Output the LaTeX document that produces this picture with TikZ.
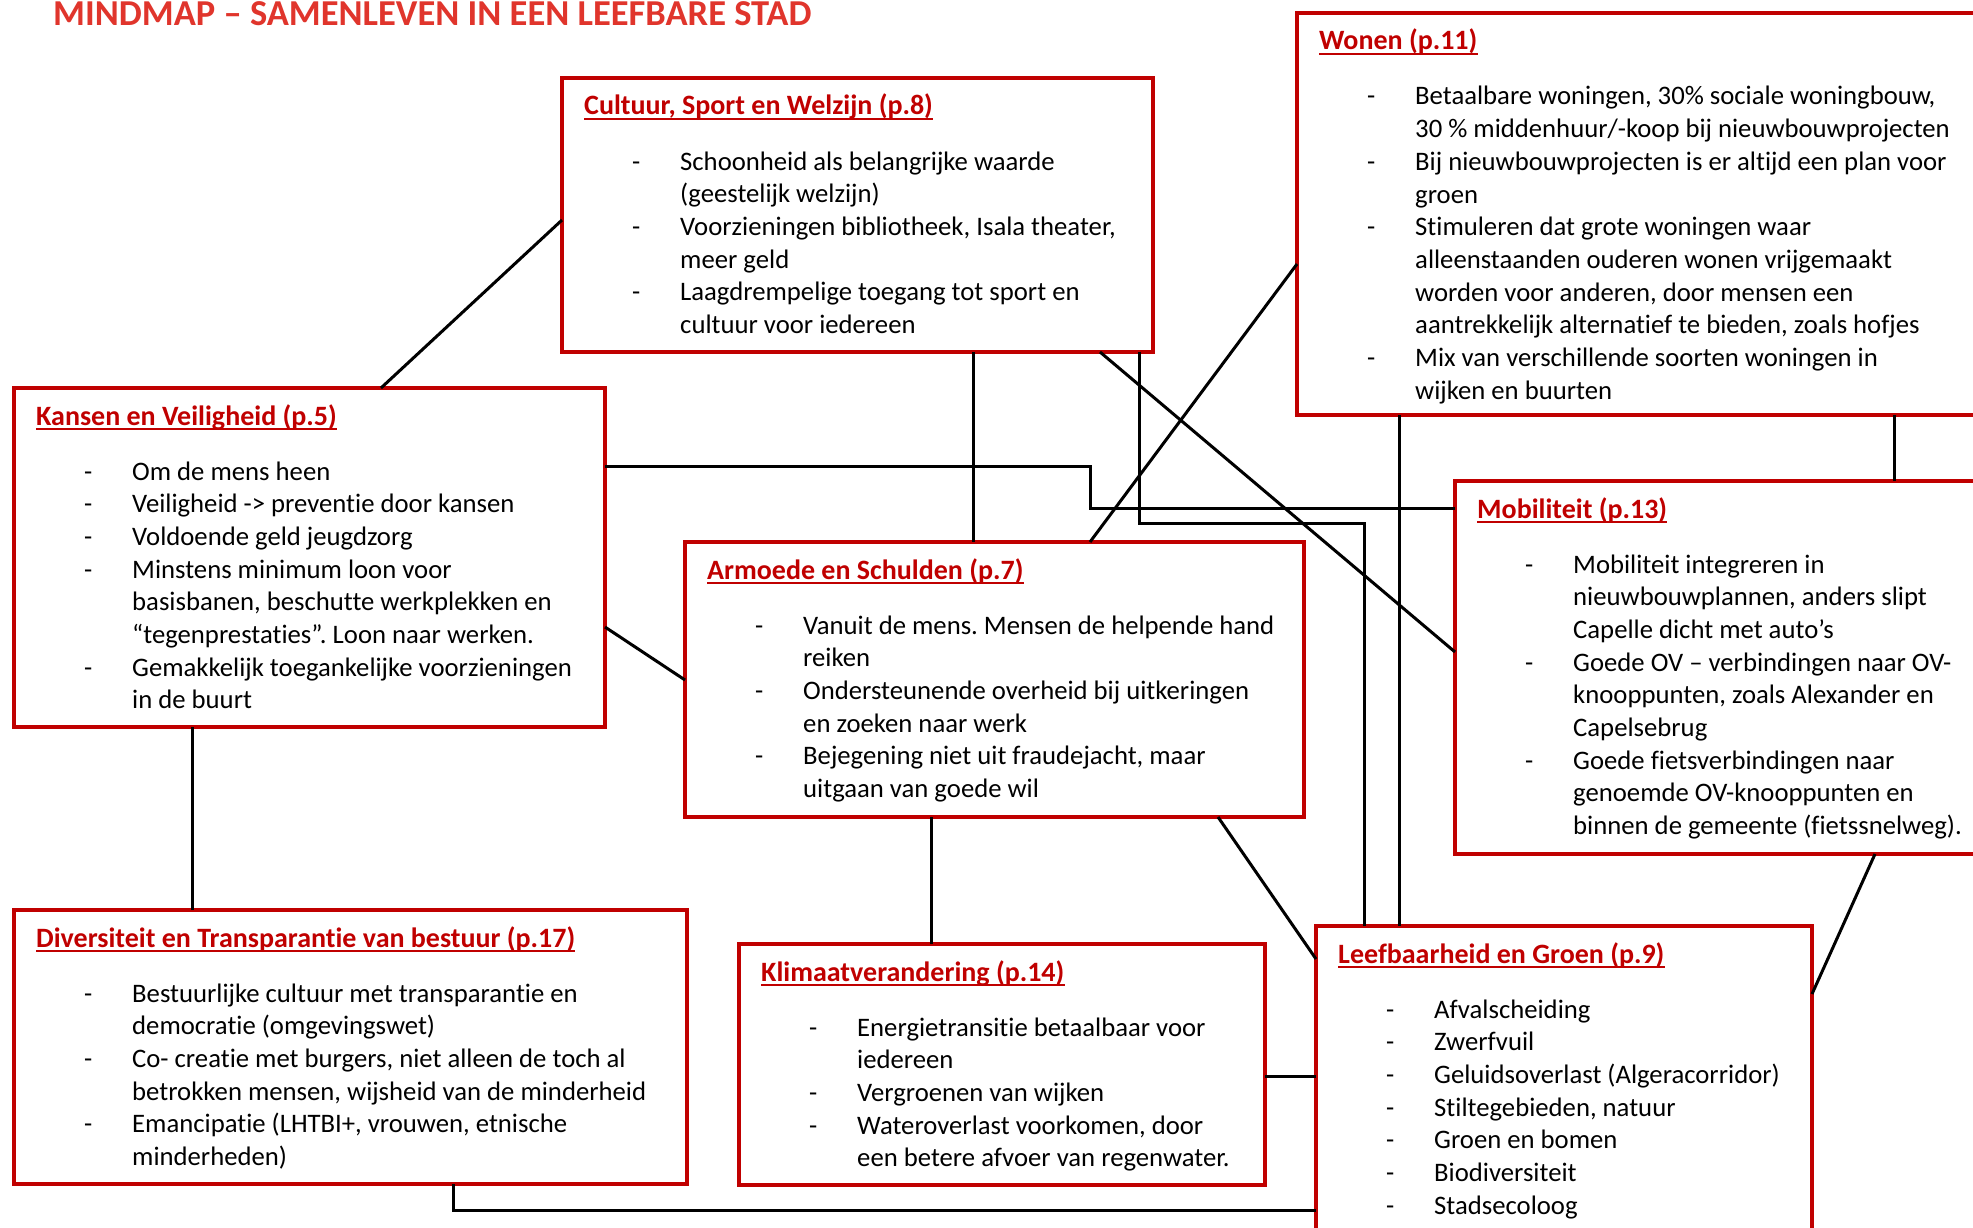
\documentclass[tikz,border=0pt]{standalone}
\usepackage{fontspec}
\setmainfont{Carlito}[Ligatures={TeX,NoCommon}]
\frenchspacing
\definecolor{KaderRood}{HTML}{C00000}
\definecolor{TitelRood}{HTML}{E0352C}
\usetikzlibrary{positioning, calc}

\begin{document}
\begin{tikzpicture}[x=1pt, y=-1pt,
  kaart/.style={draw=KaderRood, line width=3.5pt, inner sep=0pt, outer sep=0pt, anchor=north west},
  kop/.style={anchor=base west, inner sep=0pt, text=KaderRood, font=\fontsize{28}{32.7}\selectfont\bfseries},
  onderstreep/.style={draw=KaderRood, line width=2.2pt},
  lijst/.style={anchor=base west, inner sep=0pt, font=\fontsize{26.7}{32.7}\selectfont},
  lijn/.style={line width=3pt, black},
]
  \useasboundingbox (0,0) rectangle (1973,1228);

  \node[anchor=base west, inner sep=0pt, text=TitelRood, font=\fontsize{36.5}{40}\selectfont\bfseries] (titel) at (53,26)
    {MINDMAP – SAMENLEVEN IN EEN LEEFBARE STAD};

  % kaders
  \node[kaart, minimum width=591, minimum height=274] (cultuur) at (562,78) {};
  \node[kaart, minimum width=720, minimum height=402] (wonen) at (1297,13) {};
  \node[kaart, minimum width=591, minimum height=339] (kansen) at (14,388) {};
  \node[kaart, minimum width=619, minimum height=275] (armoede) at (685,542) {};
  \node[kaart, minimum width=560, minimum height=373] (mobiliteit) at (1455,481) {};
  \node[kaart, minimum width=673, minimum height=274] (diversiteit) at (14,910) {};
  \node[kaart, minimum width=526, minimum height=241] (klimaat) at (739,944) {};
  \node[kaart, minimum width=496, minimum height=330] (leef) at (1316,926) {};

  % koppen
  \node[kop] (cultuur-kop) at ([shift={(22pt,-37pt)}]cultuur.north west) {Cultuur, Sport en Welzijn (p.8)};
  \node[kop] (wonen-kop) at ([shift={(22pt,-37pt)}]wonen.north west) {Wonen (p.11)};
  \node[kop] (kansen-kop) at ([shift={(22pt,-37pt)}]kansen.north west) {Kansen en Veiligheid (p.5)};
  \node[kop] (armoede-kop) at ([shift={(22pt,-37pt)}]armoede.north west) {Armoede en Schulden (p.7)};
  \node[kop] (mobiliteit-kop) at ([shift={(22pt,-37pt)}]mobiliteit.north west) {Mobiliteit (p.13)};
  \node[kop] (diversiteit-kop) at ([shift={(22pt,-37pt)}]diversiteit.north west) {Diversiteit en Transparantie van bestuur (p.17)};
  \node[kop] (klimaat-kop) at ([shift={(22pt,-37pt)}]klimaat.north west) {Klimaatverandering (p.14)};
  \node[kop] (leef-kop) at ([shift={(22pt,-37pt)}]leef.north west) {Leefbaarheid en Groen (p.9)};
  \foreach \k in {cultuur, wonen, kansen, armoede, mobiliteit, diversiteit, klimaat, leef}
    \draw[onderstreep] ([yshift=-4pt]\k-kop.base west) -- ([yshift=-4pt]\k-kop.base east);

  % lijsten
  \node[lijst] (cultuur-lijst) at ([shift={(70pt,-92pt)}]cultuur.north west) {\begin{tabular}[t]{@{}p{48pt}@{}l@{}}
    - & Schoonheid als belangrijke waarde\\
      & (geestelijk welzijn)\\
    - & Voorzieningen bibliotheek, Isala theater,\\
      & meer geld\\
    - & Laagdrempelige toegang tot sport en\\
      & cultuur voor iedereen
  \end{tabular}};
  \node[lijst] (wonen-lijst) at ([shift={(70pt,-92pt)}]wonen.north west) {\begin{tabular}[t]{@{}p{48pt}@{}l@{}}
    - & Betaalbare woningen, 30\% sociale woningbouw,\\
      & 30 \% middenhuur/-koop bij nieuwbouwprojecten\\
    - & Bij nieuwbouwprojecten is er altijd een plan voor\\
      & groen\\
    - & Stimuleren dat grote woningen waar\\
      & alleenstaanden ouderen wonen vrijgemaakt\\
      & worden voor anderen, door mensen een\\
      & aantrekkelijk alternatief te bieden, zoals hofjes\\
    - & Mix van verschillende soorten woningen in\\
      & wijken en buurten
  \end{tabular}};
  \node[lijst] (kansen-lijst) at ([shift={(70pt,-92pt)}]kansen.north west) {\begin{tabular}[t]{@{}p{48pt}@{}l@{}}
    - & Om de mens heen\\
    - & Veiligheid -> preventie door kansen\\
    - & Voldoende geld jeugdzorg\\
    - & Minstens minimum loon voor\\
      & basisbanen, beschutte werkplekken en\\
      & “tegenprestaties”. Loon naar werken.\\
    - & Gemakkelijk toegankelijke voorzieningen\\
      & in de buurt
  \end{tabular}};
  \node[lijst] (armoede-lijst) at ([shift={(70pt,-92pt)}]armoede.north west) {\begin{tabular}[t]{@{}p{48pt}@{}l@{}}
    - & Vanuit de mens. Mensen de helpende hand\\
      & reiken\\
    - & Ondersteunende overheid bij uitkeringen\\
      & en zoeken naar werk\\
    - & Bejegening niet uit fraudejacht, maar\\
      & uitgaan van goede wil
  \end{tabular}};
  \node[lijst] (mobiliteit-lijst) at ([shift={(70pt,-92pt)}]mobiliteit.north west) {\begin{tabular}[t]{@{}p{48pt}@{}l@{}}
    - & Mobiliteit integreren in\\
      & nieuwbouwplannen, anders slipt\\
      & Capelle dicht met auto’s\\
    - & Goede OV – verbindingen naar OV-\\
      & knooppunten, zoals Alexander en\\
      & Capelsebrug\\
    - & Goede fietsverbindingen naar\\
      & genoemde OV-knooppunten en\\
      & binnen de gemeente (fietssnelweg).
  \end{tabular}};
  \node[lijst] (diversiteit-lijst) at ([shift={(70pt,-92pt)}]diversiteit.north west) {\begin{tabular}[t]{@{}p{48pt}@{}l@{}}
    - & Bestuurlijke cultuur met transparantie en\\
      & democratie (omgevingswet)\\
    - & Co- creatie met burgers, niet alleen de toch al\\
      & betrokken mensen, wijsheid van de minderheid\\
    - & Emancipatie (LHTBI+, vrouwen, etnische\\
      & minderheden)
  \end{tabular}};
  \node[lijst] (klimaat-lijst) at ([shift={(70pt,-92pt)}]klimaat.north west) {\begin{tabular}[t]{@{}p{48pt}@{}l@{}}
    - & Energietransitie betaalbaar voor\\
      & iedereen\\
    - & Vergroenen van wijken\\
    - & Wateroverlast voorkomen, door\\
      & een betere afvoer van regenwater.
  \end{tabular}};
  \node[lijst] (leef-lijst) at ([shift={(70pt,-92pt)}]leef.north west) {\begin{tabular}[t]{@{}p{48pt}@{}l@{}}
    - & Afvalscheiding\\
    - & Zwerfvuil\\
    - & Geluidsoverlast (Algeracorridor)\\
    - & Stiltegebieden, natuur\\
    - & Groen en bomen\\
    - & Biodiversiteit\\
    - & Stadsecoloog
  \end{tabular}};

  % verbindingen
  \draw[lijn] ([xshift=367pt]kansen.north west) -- ([yshift=-142pt]cultuur.north west);
  \draw[lijn] ([xshift=411pt]cultuur.south west) coordinate (c1) -- (c1 |- armoede.north);
  \draw[lijn] ([xshift=538pt]cultuur.south west) -- ([yshift=-171pt]mobiliteit.north west);
  \draw[lijn] ([xshift=577pt]cultuur.south west) |- ([shift={(48pt,403pt)}]leef.north west) -- ([xshift=48pt]leef.north west);
  \draw[lijn] ([yshift=-78pt]kansen.north east) -| ([shift={(-365pt,-27pt)}]mobiliteit.north west) -- ([yshift=-27pt]mobiliteit.north west);
  \draw[lijn] ([xshift=405pt]armoede.north west) -- ([yshift=-251pt]wonen.north west);
  \draw[lijn] ([xshift=102pt]wonen.south west) coordinate (w1) -- (w1 |- leef.north);
  \draw[lijn] ([xshift=597pt]wonen.south west) coordinate (w2) -- (w2 |- mobiliteit.north);
  \draw[lijn] ([yshift=-239pt]kansen.north east) -- ([yshift=-138pt]armoede.north west);
  \draw[lijn] ([xshift=178pt]kansen.south west) coordinate (k1) -- (k1 |- diversiteit.north);
  \draw[lijn] ([xshift=246pt]armoede.south west) coordinate (a1) -- (a1 |- klimaat.north);
  \draw[lijn] ([xshift=533pt]armoede.south west) -- ([yshift=-33pt]leef.north west);
  \draw[lijn] ([xshift=420pt]mobiliteit.south west) -- ([yshift=-68pt]leef.north east);
  \draw[lijn] ([yshift=-132pt]klimaat.north east) coordinate (k2) -- (k2 -| leef.west);
  \draw[lijn] ([xshift=439pt]diversiteit.south west) |- ([yshift=-284pt]leef.north west);
\end{tikzpicture}
\end{document}
